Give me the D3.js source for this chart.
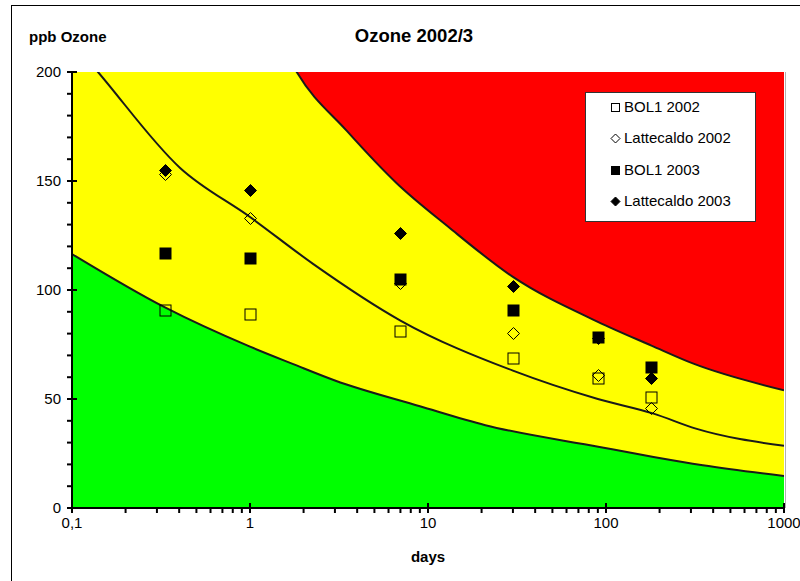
<!DOCTYPE html>
<html><head><meta charset="utf-8">
<script src="https://cdn.jsdelivr.net/npm/d3@7"></script>
<style>body{margin:0;background:#fff;overflow:hidden} text{font-family:"Liberation Sans",Arial,sans-serif}</style>
</head><body><svg id="c" width="800" height="581"></svg>
<script>
// ---- data ----
const days = [0.333, 1, 7, 30, 90, 180];
const bol2002 = [91, 89, 81, 69, 59.5, 51];
const latte2002 = [153, 133, 103, 80.5, 61, 46];
const bol2003 = [117, 114.5, 105, 91, 78.5, 64.5];
const latte2003 = [155, 146, 126, 102, 78, 59.5];

// threshold curves (days, ppb)
const lowerDays = [0.1, 0.333, 1, 1.75, 3, 9, 21, 92, 185, 350, 1000];
const lowerVals = [116.5, 92, 74, 66, 58.5, 46.7, 38, 28, 23.4, 19.6, 14.7];
const middleDays = [0.1, 0.14, 0.405, 1, 2.26, 7, 30, 90, 185, 320, 1000];
const middleVals = [214, 200, 156, 133.5, 112, 86, 63, 50, 43.3, 36.4, 28.5];
const upperDays = [1.5, 1.83, 3.5, 6.67, 13, 30, 90, 180, 310, 1000];
const upperVals = [213, 200, 173, 149, 129, 106, 85.4, 74.5, 66.2, 54];

const xTickLabels = ["0,1", "1", "10", "100", "1000"];
const yTickLabels = [0, 50, 100, 150, 200];

const seriesNames = ["BOL1 2002", "Lattecaldo 2002", "BOL1 2003", "Lattecaldo 2003"];
const seriesData = [bol2002, latte2002, bol2003, latte2003];

// ---- layout ----
const svg = d3.select("#c");
const L = 72, R = 784, T = 72, B = 508;
const x = d3.scaleLog().domain([0.1, 1000]).range([L, R]);
const y = d3.scaleLinear().domain([0, 200]).range([B, T]);

// outer frame
svg.append("rect").attr("x", 11.5).attr("y", 5.5).attr("width", 820).attr("height", 600)
  .attr("fill", "#fff").attr("stroke", "#000").attr("stroke-width", 1);

svg.append("defs").append("clipPath").attr("id", "pc")
  .append("rect").attr("x", L).attr("y", T).attr("width", R - L).attr("height", B - T);

const plot = svg.append("g").attr("clip-path", "url(#pc)");
plot.append("rect").attr("x", L).attr("y", T).attr("width", R - L).attr("height", B - T).attr("fill", "#FF0000");

const pts = (ds, vs) => ds.map((d, i) => [d, vs[i]]);
const area = d3.area().x(d => x(d[0])).y0(B + 5).y1(d => y(d[1])).curve(d3.curveMonotoneX);
const line = d3.line().x(d => x(d[0])).y(d => y(d[1])).curve(d3.curveMonotoneX);

const upperPts = [[0.05, 400]].concat(pts(upperDays, upperVals));
plot.append("path").attr("d", area(upperPts)).attr("fill", "#FFFF00");
plot.append("path").attr("d", area(pts(lowerDays, lowerVals))).attr("fill", "#00FF00");

[pts(lowerDays, lowerVals), pts(middleDays, middleVals), pts(upperDays, upperVals)].forEach(p => {
  plot.append("path").attr("d", line(p)).attr("fill", "none").attr("stroke", "#1a1a1a").attr("stroke-width", 2);
});

// plot-area right edge
svg.append("line").attr("x1", R + 1.5).attr("x2", R + 1.5).attr("y1", T).attr("y2", B).attr("stroke", "#b0b0b0");

// markers
function marker(g, type, cx, cy, s) {
  if (type === 0 || type === 2) {
    g.append("rect").attr("x", cx - s / 2).attr("y", cy - s / 2).attr("width", s).attr("height", s)
      .attr("fill", type === 2 ? "#000" : "none").attr("stroke", "#000").attr("stroke-width", 1);
  } else {
    const h = s / 2 + 0.5;
    g.append("path").attr("d", `M${cx},${cy - h}L${cx + h},${cy}L${cx},${cy + h}L${cx - h},${cy}Z`)
      .attr("fill", type === 3 ? "#000" : "none").attr("stroke", "#000").attr("stroke-width", 1);
  }
}
const mg = svg.append("g");
seriesData.forEach((vals, si) => {
  vals.forEach((v, i) => marker(mg, si, Math.round(x(days[i])) + 0.5, Math.round(y(v)) + 0.5, 11));
});

// axes
const ax = svg.append("g").attr("stroke", "#000");
ax.append("line").attr("x1", L).attr("x2", L).attr("y1", T).attr("y2", B + 1).attr("stroke-width", 2);
ax.append("line").attr("x1", L - 1).attr("x2", R + 1).attr("y1", B).attr("y2", B).attr("stroke-width", 2);
d3.range(0, 201, 10).forEach(v => {
  const major = v % 50 === 0;
  ax.append("line").attr("x1", L - 5).attr("x2", major ? L + 5 : L).attr("y1", y(v)).attr("y2", y(v)).attr("stroke-width", 2);
});
x.ticks().forEach(t => {
  const major = Math.abs(Math.log10(t) - Math.round(Math.log10(t))) < 1e-9;
  ax.append("line").attr("x1", x(t)).attr("x2", x(t)).attr("y1", major ? B - 5 : B).attr("y2", B + 5).attr("stroke-width", 2);
});

// tick labels
yTickLabels.forEach(v => {
  svg.append("text").attr("x", 61).attr("y", y(v) + 5).attr("text-anchor", "end").attr("font-size", 15).text(v);
});
[0.1, 1, 10, 100, 1000].forEach((t, i) => {
  svg.append("text").attr("x", x(t)).attr("y", 528).attr("text-anchor", "middle").attr("font-size", 15).text(xTickLabels[i]);
});

// titles
svg.append("text").attr("x", 414).attr("y", 42).attr("text-anchor", "middle").attr("font-size", 18.5).attr("font-weight", "bold").text("Ozone 2002/3");
svg.append("text").attr("x", 29).attr("y", 42).attr("font-size", 15).attr("font-weight", "bold").text("ppb Ozone");
svg.append("text").attr("x", 428).attr("y", 562).attr("text-anchor", "middle").attr("font-size", 15).attr("font-weight", "bold").text("days");

// legend
const lg = svg.append("g");
lg.append("rect").attr("x", 585.5).attr("y", 92.5).attr("width", 170).attr("height", 129).attr("fill", "#fff").attr("stroke", "#333").attr("stroke-width", 1);
const legY = [107, 138, 170, 201];
seriesNames.forEach((n, i) => {
  marker(lg, i, 615.5, legY[i] + 0.5, 8);
  lg.append("text").attr("x", 624).attr("y", legY[i] + 5).attr("font-size", 15).text(n);
});
</script></body></html>
